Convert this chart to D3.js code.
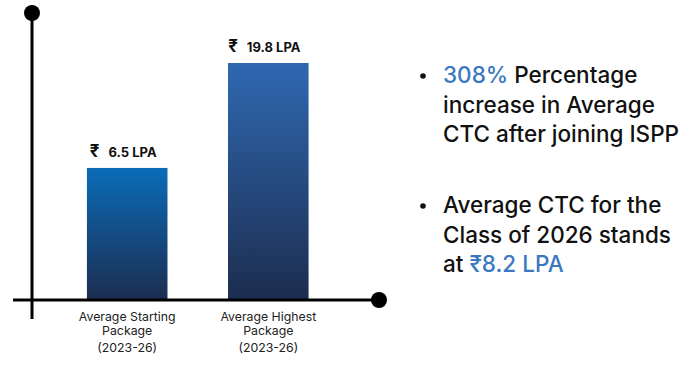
<!DOCTYPE html>
<html>
<head>
<meta charset="utf-8">
<script src="https://cdn.jsdelivr.net/npm/d3@7"></script>
<style>
  body { margin: 0; background: #fff; }
  svg { display: block; }
  .axis-line { stroke: #000; stroke-width: 3px; }
  .value { font-family: Inter, "Noto Sans", sans-serif; font-weight: 700; font-size: 13px; fill: #111; }
  .cat { font-family: Inter, "Noto Sans", sans-serif; font-size: 12.3px; fill: #222; }
  .note { font-family: Inter, "Noto Sans", sans-serif; font-weight: 500; font-size: 22.5px; fill: #111; }
  .hl { fill: #3b78c2; }
</style>
</head>
<body>
<svg id="chart" width="684" height="365"></svg>
<script>
  // chart data
  const categories = ["Average Starting Package", "Average Highest Package"];
  const catLines = [["Average Starting", "Package", "(2023-26)"], ["Average Highest", "Package", "(2023-26)"]];
  const values = [6.5, 19.8];
  const valueLabels = ["6.5 LPA", "19.8 LPA"];
  const gradTops = ["#0b6cb8", "#2f68b1"];
  const gradBottom = "#1c2d4f";

  // side notes
  const notes = [
    [[{t: "308%", hl: true}, {t: " Percentage"}], [{t: "increase in Average"}], [{t: "CTC after joining ISPP"}]],
    [[{t: "Average CTC for the"}], [{t: "Class of 2026 stands"}], [{t: "at "}, {t: "\u20B98.2 LPA", hl: true}]]
  ];

  const svg = d3.select("#chart");
  const axisY = 300, axisX = 32;

  const x = d3.scaleBand().domain(categories).range([46, 349.5]).paddingInner(0.429).paddingOuter(0.29);
  // bar heights in the source are not linear in the value; a power scale fits them
  const y = d3.scalePow().exponent(0.525).domain([0, d3.max(values)]).range([axisY, 63]);

  const defs = svg.append("defs");
  gradTops.forEach((c, i) => {
    const g = defs.append("linearGradient").attr("id", "g" + i)
      .attr("x1", 0).attr("y1", 0).attr("x2", 0).attr("y2", 1);
    g.append("stop").attr("offset", "0%").attr("stop-color", c);
    g.append("stop").attr("offset", "100%").attr("stop-color", gradBottom);
  });

  svg.selectAll("rect.bar").data(values).join("rect")
    .attr("class", "bar")
    .attr("x", (d, i) => x(categories[i]))
    .attr("width", x.bandwidth())
    .attr("y", d => y(d))
    .attr("height", d => axisY - y(d))
    .attr("fill", (d, i) => `url(#g${i})`);

  // axes
  svg.append("line").attr("class", "axis-line")
    .attr("x1", axisX).attr("x2", axisX).attr("y1", 13).attr("y2", 319);
  svg.append("line").attr("class", "axis-line")
    .attr("x1", 13).attr("x2", 379).attr("y1", axisY).attr("y2", axisY);
  svg.append("circle").attr("cx", axisX).attr("cy", 13).attr("r", 8).attr("fill", "#000");
  svg.append("circle").attr("cx", 379).attr("cy", axisY).attr("r", 8).attr("fill", "#000");

  // value labels
  const vl = svg.selectAll("text.value").data(values).join("text")
    .attr("class", "value")
    .attr("text-anchor", "middle")
    .attr("x", (d, i) => x(categories[i]) + x.bandwidth() / 2 - 4)
    .attr("y", d => y(d) - 11);
  vl.append("tspan").attr("font-size", 17).text("\u20B9");
  vl.append("tspan").attr("dx", 9).text((d, i) => valueLabels[i]);

  // category labels
  const lineY = [321, 335, 352];
  categories.forEach((c, i) => {
    catLines[i].forEach((ln, j) => {
      svg.append("text").attr("class", "cat")
        .attr("text-anchor", "middle")
        .attr("x", x(c) + x.bandwidth() / 2)
        .attr("y", lineY[j])
        .text(ln);
    });
  });

  // notes on the right
  const noteTop = [83, 213], lh = 29.5;
  notes.forEach((block, b) => {
    svg.append("circle").attr("cx", 423).attr("cy", noteTop[b] - 7).attr("r", 2.8).attr("fill", "#111");
    block.forEach((line, l) => {
      const t = svg.append("text").attr("class", "note")
        .attr("x", 443).attr("y", noteTop[b] + l * lh);
      line.forEach(p => t.append("tspan").attr("class", p.hl ? "hl" : null).text(p.t));
    });
  });
</script>
</body>
</html>
